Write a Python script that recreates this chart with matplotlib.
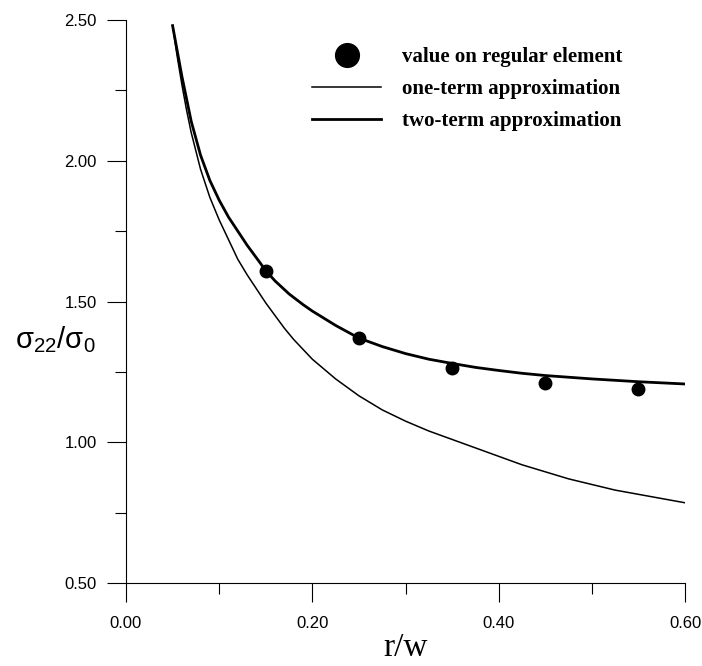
import numpy as np
import matplotlib
matplotlib.use("Agg")
import matplotlib.pyplot as plt
from matplotlib.ticker import MultipleLocator, FormatStrFormatter

# values
r_one = [0.05, 0.055, 0.06, 0.065, 0.07, 0.08, 0.09, 0.10, 0.11, 0.12, 0.13, 0.14,
         0.15, 0.16, 0.17, 0.18, 0.19, 0.20, 0.225, 0.25, 0.275, 0.30, 0.325,
         0.35, 0.375, 0.40, 0.425, 0.45, 0.475, 0.50, 0.525, 0.55, 0.575, 0.60]
one_term = [2.48, 2.37, 2.27, 2.18, 2.10, 1.97, 1.87, 1.79, 1.72, 1.65, 1.595, 1.545,
            1.495, 1.45, 1.405, 1.365, 1.33, 1.295, 1.225, 1.165, 1.115, 1.075, 1.04,
            1.01, 0.98, 0.95, 0.92, 0.895, 0.87, 0.85, 0.83, 0.815, 0.80, 0.785]

r_two = [0.05, 0.055, 0.06, 0.065, 0.07, 0.075, 0.08, 0.085, 0.09, 0.10, 0.11, 0.12,
         0.13, 0.14, 0.15, 0.16, 0.175, 0.19, 0.20, 0.225, 0.25, 0.275, 0.30, 0.325,
         0.35, 0.375, 0.40, 0.425, 0.45, 0.50, 0.55, 0.60]
two_term = [2.48, 2.39, 2.30, 2.22, 2.14, 2.08, 2.02, 1.975, 1.93, 1.86, 1.80, 1.75,
            1.70, 1.655, 1.61, 1.573, 1.527, 1.489, 1.466, 1.415, 1.37, 1.34, 1.315, 1.295,
            1.28, 1.266, 1.255, 1.245, 1.237, 1.225, 1.215, 1.207]

r_pts = [0.15, 0.25, 0.35, 0.45, 0.55]
pts = [1.61, 1.37, 1.265, 1.21, 1.19]

fig = plt.figure(figsize=(7.02, 6.66), dpi=100)
ax = fig.add_axes([126/702, 83/666, 559/702, 563/666])

ax.plot(r_pts, pts, 'o', color='black', markersize=9, label='value on regular element', zorder=3)
ax.plot(r_one, one_term, '-', color='black', lw=1.1, label='one-term approximation')
ax.plot(r_two, two_term, '-', color='black', lw=2.0, label='two-term approximation')

ax.set_xlim(0, 0.6)
ax.set_ylim(0.5, 2.5)
ax.spines['top'].set_visible(False)
ax.spines['right'].set_visible(False)
ax.xaxis.set_major_locator(MultipleLocator(0.2))
ax.xaxis.set_minor_locator(MultipleLocator(0.1))
ax.yaxis.set_major_locator(MultipleLocator(0.5))
ax.yaxis.set_minor_locator(MultipleLocator(0.25))
ax.xaxis.set_major_formatter(FormatStrFormatter('%.2f'))
ax.yaxis.set_major_formatter(FormatStrFormatter('%.2f'))
ax.tick_params(which='major', direction='out', length=14, width=0.8,
               labelsize=12, pad=7)
ax.tick_params(axis='x', which='major', pad=10)
ax.tick_params(which='minor', direction='out', length=8, width=0.8)
for lab in ax.get_xticklabels() + ax.get_yticklabels():
    lab.set_family('Liberation Sans')

ax.set_xlabel('r/w', family='Liberation Serif', fontsize=24, labelpad=1)
fig.text(0.022, 0.49, r'$\mathregular{\sigma_{22}/\sigma_0}$', fontsize=21,
         family='Liberation Sans', va='center', ha='left')

leg = ax.legend(loc='upper left', bbox_to_anchor=(0.30, 0.985), frameon=False,
                prop={'family': 'Liberation Serif', 'weight': 'bold', 'size': 15},
                handlelength=3.3, handletextpad=1.0, markerscale=1.9,
                labelspacing=0.58)

fig.savefig('out.png', dpi=100)
